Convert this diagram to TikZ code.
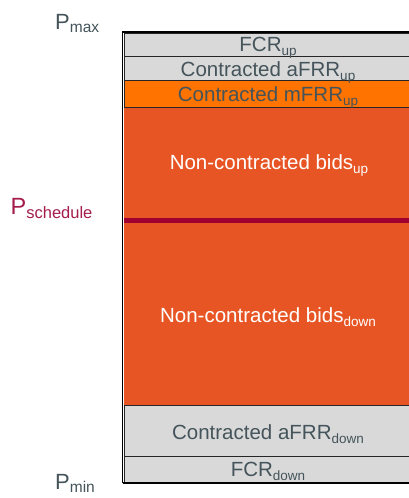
\documentclass[tikz,border=0pt]{standalone}
\usepackage{fontspec}
\setmainfont{Liberation Sans}
\definecolor{boxgray}{HTML}{D9D9D9}
\definecolor{morange}{HTML}{FF7300}
\definecolor{ncred}{HTML}{E85524}
\definecolor{schedline}{HTML}{A0002F}
\definecolor{schedtxt}{HTML}{A31C4C}
\definecolor{txtgray}{HTML}{44545A}
\definecolor{edge}{HTML}{262626}
\newcommand\sbx[3]{\raisebox{-#2pt}{\fontsize{#1}{#1}\selectfont #3}}
\begin{document}
\begin{tikzpicture}[x=1pt,y=-1pt,
  blk/.style={draw=edge,line width=0.8pt,inner sep=0pt,outer sep=0pt,minimum width=288pt,anchor=north west},
  lbl/.style={anchor=base,inner sep=0pt,text=txtgray,font=\fontsize{20.5}{20.5}\selectfont},
  wlbl/.style={lbl,text=white},
  plbl/.style={anchor=base west,inner sep=0pt,text=txtgray,font=\fontsize{22}{22}\selectfont}]
\useasboundingbox (0,0) rectangle (409,498);
% blocks
\node[blk,fill=boxgray,minimum height=23pt] (fcrup) at (124,33) {};
\node[blk,fill=boxgray,minimum height=24pt] (afrrup) at (124,56) {};
\node[blk,fill=morange,minimum height=27.5pt] (mfrrup) at (124,80) {};
\node[blk,draw=none,fill=ncred,minimum height=113pt] (ncup) at (124,107.5) {};
\node[blk,draw=none,fill=ncred,minimum height=184.5pt] (ncdown) at (124,220.5) {};
\node[blk,fill=boxgray,minimum height=51pt] (afrrdown) at (124,405) {};
\node[blk,fill=boxgray,minimum height=26pt] (fcrdown) at (124,456) {};
% outer frame
\draw[black,line width=1.8pt] (122.5,483) |- (416,32);
\draw[black,line width=1.2pt] (122.5,483) -- (416,483);
% schedule line
\draw[schedline,line width=4.5pt] (ncup.south west) -- (ncup.south east);
% labels in blocks
\node[lbl] (tfcrup) at (268,51.5) {FCR\sbx{13.5}{4}{up}};
\node[lbl] (tafrrup) at (268,76) {Contracted aFRR\sbx{13.5}{4}{up}};
\node[lbl] (tmfrrup) at (268,101) {Contracted mFRR\sbx{13.5}{4}{up}};
\node[wlbl] (tncup) at (269,169) {Non-contracted bids\sbx{13.5}{4}{up}};
\node[wlbl] (tncdown) at (268,322) {Non-contracted bids\sbx{13.5}{4}{down}};
\node[lbl] (tafrrdown) at (268,439) {Contracted aFRR\sbx{13.5}{4}{down}};
\node[lbl] (tfcrdown) at (268,476) {FCR\sbx{13.5}{4}{down}};
% side labels
\node[plbl] (pmax) at (55,29.3) {P\sbx{15.5}{3.5}{max}};
\node[plbl,text=schedtxt,font=\fontsize{23.5}{23.5}\selectfont] (psched) at (10.5,214) {P\sbx{16.5}{4}{schedule}};
\node[plbl] (pmin) at (55,489) {P\sbx{15.5}{3.5}{min}};
\end{tikzpicture}
\end{document}
